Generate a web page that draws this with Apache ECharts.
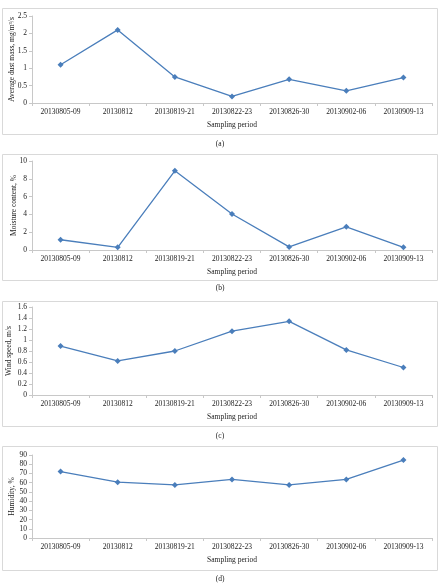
<!DOCTYPE html>
<html>
<head>
<meta charset="utf-8">
<script src="https://cdn.jsdelivr.net/npm/echarts@6/dist/echarts.min.js"></script>
<style>
  html, body { margin: 0; padding: 0; background: #fff; }
  #chart { width: 440px; height: 588px; }
</style>
</head>
<body>
<div id="chart"></div>
<script>
// sampling periods (x categories, shared)
var periods = ["20130805-09", "20130812", "20130819-21", "20130822-23", "20130826-30", "20130902-06", "20130909-13"];

// values
var dustMass = [1.1, 2.1, 0.75, 0.19, 0.68, 0.35, 0.73];
var moisture = [1.15, 0.3, 8.9, 4.05, 0.35, 2.6, 0.3];
var windSpeed = [0.89, 0.62, 0.8, 1.16, 1.34, 0.82, 0.5];
var humidity = [72, 60.5, 57.5, 63.5, 57.5, 63.5, 84.5];

var yNames = ["Average dust mass, mg/m\u00b3/s", "Moisture content, %", "Wind speed, m/s", "Humidity, %"];
var yMax = [2.5, 10, 1.6, 90];
var yStep = [0.5, 2, 0.2, 10];
var panelLabels = ["(a)", "(b)", "(c)", "(d)"];

var FONT = "'Liberation Serif', 'Times New Roman', serif";
var LINE = "#4a7ebb";
var AXIS = "#c8c8c8";

// plot areas and frames for the four panels
var grids = [
  { top: 16, height: 87 },
  { top: 161, height: 89 },
  { top: 307, height: 88 },
  { top: 455, height: 83 }
];
var frames = [[8, 134], [154, 280], [301, 426], [446, 570]];
var labelY = [144, 288, 436, 579];
var nameGaps = [16, 14, 19, 16];
var allData = [dustMass, moisture, windSpeed, humidity];

var option = {
  animation: false,
  textStyle: { fontFamily: FONT },
  grid: [],
  xAxis: [],
  yAxis: [],
  series: [],
  graphic: []
};

for (var i = 0; i < 4; i++) {
  option.grid.push({
    left: 32, right: 8, top: grids[i].top, height: grids[i].height,
    containLabel: false, outerBoundsMode: "none"
  });
  option.xAxis.push({
    type: "category",
    gridIndex: i,
    data: periods,
    boundaryGap: true,
    name: "Sampling period",
    nameLocation: "middle",
    nameGap: 18,
    nameMoveOverlap: false,
    nameTextStyle: { fontFamily: FONT, fontSize: 7.5, color: "#222" },
    axisLine: { lineStyle: { color: AXIS, width: 1 } },
    axisTick: { show: true, length: 3, lineStyle: { color: AXIS } },
    axisLabel: { fontFamily: FONT, fontSize: 7.5, color: "#222", margin: 5, interval: 0 },
    splitLine: { show: false }
  });
  option.yAxis.push({
    type: "value",
    gridIndex: i,
    min: 0,
    max: yMax[i],
    interval: yStep[i],
    name: yNames[i],
    nameLocation: "middle",
    nameGap: nameGaps[i],
    nameMoveOverlap: false,
    nameTextStyle: { fontFamily: FONT, fontSize: 7.5, color: "#222" },
    axisLine: { show: true, lineStyle: { color: AXIS, width: 1 } },
    axisTick: { show: true, length: 3, lineStyle: { color: AXIS } },
    axisLabel: { fontFamily: FONT, fontSize: 7.5, color: "#222", margin: 5 },
    splitLine: { show: false }
  });
  option.series.push({
    type: "line",
    xAxisIndex: i,
    yAxisIndex: i,
    data: allData[i],
    symbol: "diamond",
    symbolSize: 6,
    lineStyle: { color: LINE, width: 1.3 },
    itemStyle: { color: LINE }
  });
  option.graphic.push({
    type: "rect",
    shape: { x: 2.5, y: frames[i][0] + 0.5, width: 435, height: frames[i][1] - frames[i][0] },
    style: { fill: null, stroke: "#d9d9d9", lineWidth: 1 },
    z: -1
  });
  option.graphic.push({
    type: "text",
    x: 220,
    y: labelY[i],
    style: { text: panelLabels[i], font: "7.5px " + FONT, fill: "#222", align: "center", verticalAlign: "middle" }
  });
}

var myChart = echarts.init(document.getElementById("chart"));
myChart.setOption(option);
</script>
</body>
</html>
